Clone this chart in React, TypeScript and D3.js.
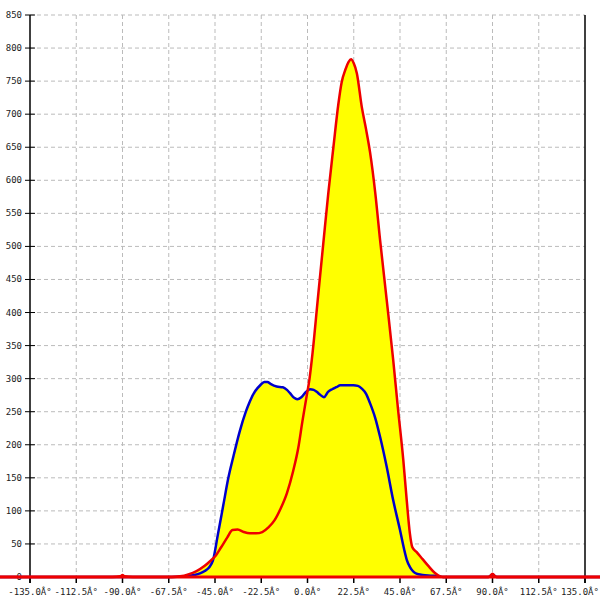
import React from "react";
import * as d3 from "d3";

const redAngles = [-150, -95, -91, -90, -89, -85, -66, -62, -58, -54, -50, -47, -45, -42, -39, -36.5, -34, -31, -28, -25, -22, -19, -16, -13, -10, -7, -4.5, -2.5, -0.5, 1, 2.5, 5, 7.7, 10.1, 12.6, 15, 16.6, 18.5, 20, 21.2, 22.5, 24, 26.4, 28.5, 30.4, 33, 35.3, 38.5, 41.7, 44, 46.6, 48.3, 49.8, 51, 53, 56, 59, 62, 64.5, 66, 88, 89, 90, 91, 92, 150];
const redValues = [0, 0, 1, 3, 1, 0, 0, 1, 4, 9, 17, 25, 31, 45, 60, 71, 72, 68, 66, 66, 68, 75, 86, 104, 127, 160, 195, 235, 272, 300, 340, 420, 505, 580, 650, 715, 748, 768, 779, 783, 777, 762, 711, 677, 643, 580, 510, 420, 328, 255, 177, 115, 66, 45, 38, 27, 16, 6, 1, 0, 0, 2, 5, 2, 0, 0];

const blueAngles = [-150, -66, -60, -55, -52, -50, -48, -46, -43.5, -41, -38.5, -36, -33, -30, -28, -25.5, -23, -21, -19.5, -18, -15, -12, -10, -8.5, -6.5, -5, -3, -1, 1.2, 3, 4.5, 6, 8, 10, 12, 14, 16, 22.3, 24.5, 26.4, 28.5, 30.4, 33, 35.3, 38.5, 41.7, 45, 47, 48.3, 50, 51.5, 53, 56, 60, 64, 66, 88, 89, 90, 91, 92, 150];
const blueValues = [0, 0, 1, 3, 6, 9, 14, 25, 66, 108, 150, 183, 220, 250, 266, 281, 290, 295, 295, 292, 288, 287, 283, 278, 271, 269, 272, 279, 284, 283, 280, 276, 272, 280, 284, 287, 290, 290, 289, 285, 277, 263, 240, 212, 167, 116, 71, 42, 26, 14, 8, 5, 3, 2, 1, 0, 0, 2, 4, 2, 0, 0];

const xTicks = [-135, -112.5, -90, -67.5, -45, -22.5, 0, 22.5, 45, 67.5, 90, 112.5, 135];
const xTickLabels = ["-135.0Â°", "-112.5Â°", "-90.0Â°", "-67.5Â°", "-45.0Â°", "-22.5Â°", "0.0Â°", "22.5Â°", "45.0Â°", "67.5Â°", "90.0Â°", "112.5Â°", "135.0Â°"];
const yTicks = [0, 50, 100, 150, 200, 250, 300, 350, 400, 450, 500, 550, 600, 650, 700, 750, 800, 850];

type P = [number, number];

export default function App() {
  const x = d3.scaleLinear().domain([-135, 135]).range([30, 585]);
  const y = d3.scaleLinear().domain([0, 850]).range([577, 15]);

  const red: P[] = redAngles.map((a, i) => [a, redValues[i]]);
  const blue: P[] = blueAngles.map((a, i) => [a, blueValues[i]]);

  const line = d3
    .line<P>()
    .x((d) => x(d[0]))
    .y((d) => y(d[1]))
    .curve(d3.curveMonotoneX);
  const area = d3
    .area<P>()
    .x((d) => x(d[0]))
    .y0(y(0))
    .y1((d) => y(d[1]))
    .curve(d3.curveMonotoneX);

  const font = "'DejaVu Sans Mono', monospace";

  return (
    <svg
      width={600}
      height={600}
      style={{ position: "absolute", left: 0, top: 0, background: "#fff" }}
    >
      {yTicks.filter((t) => t > 0).map((t) => (
        <line key={"gy" + t} x1={x(-135)} x2={x(135)} y1={y(t)} y2={y(t)} stroke="#bbb" strokeDasharray="4,3" strokeWidth={1} />
      ))}
      {xTicks.filter((t) => t > -135 && t < 135).map((t) => (
        <line key={"gx" + t} x1={x(t)} x2={x(t)} y1={y(850)} y2={y(0)} stroke="#bbb" strokeDasharray="4,3" strokeWidth={1} />
      ))}

      <path d={area(red) || ""} fill="#ffff00" />
      <path d={area(blue) || ""} fill="#ffff00" />

      <line x1={x(-135)} x2={x(-135)} y1={y(850)} y2={y(0) + 6} stroke="#000" strokeWidth={1.5} />
      <line x1={x(135)} x2={x(135)} y1={y(850)} y2={y(0) + 6} stroke="#000" strokeWidth={1.5} />
      {yTicks.map((t) => (
        <g key={"yt" + t}>
          <line x1={x(-135) - 5} x2={x(-135) + 5} y1={y(t)} y2={y(t)} stroke="#000" strokeWidth={1} />
          <text x={22} y={y(t) + 3} textAnchor="end" fontFamily={font} fontSize={9} fill="#222">{t}</text>
        </g>
      ))}
      {xTicks.map((t, i) => (
        <g key={"xt" + t}>
          <line x1={x(t)} x2={x(t)} y1={y(0)} y2={y(0) + 6} stroke="#000" strokeWidth={1.5} />
          <text x={Math.min(x(t), 580)} y={595} textAnchor="middle" fontFamily={font} fontSize={9} fill="#222">{xTickLabels[i]}</text>
        </g>
      ))}

      <path d={line(blue) || ""} fill="none" stroke="#0000cc" strokeWidth={2.5} />
      <path d={line(red) || ""} fill="none" stroke="#ee0000" strokeWidth={2.5} />
      <line x1={0} x2={600} y1={y(0)} y2={y(0)} stroke="#ee0000" strokeWidth={3} />
    </svg>
  );
}
